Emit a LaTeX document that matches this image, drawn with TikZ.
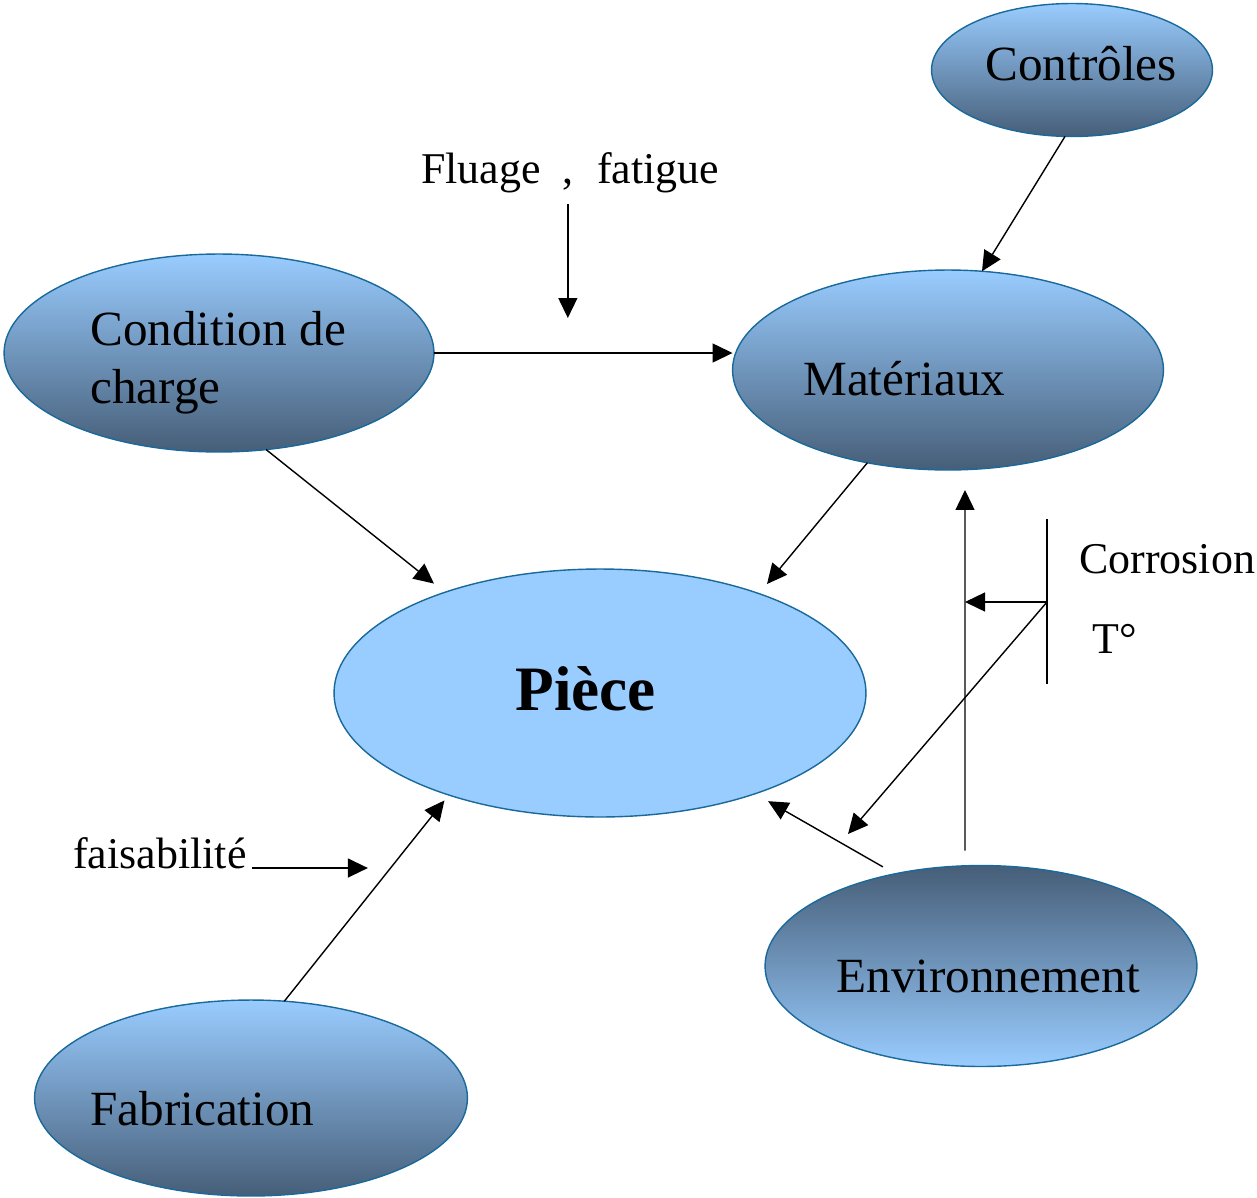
\documentclass[tikz,border=0pt]{standalone}
\usepackage{fontspec}
\setmainfont{Liberation Serif}
\usetikzlibrary{shapes.geometric,arrows.meta,calc}
\definecolor{lb}{RGB}{153,204,255}
\definecolor{dk}{RGB}{70,94,120}
\definecolor{edgec}{RGB}{25,105,155}
\begin{document}
\begin{tikzpicture}[x=0.02cm,y=-0.02cm,
  oval/.style={ellipse, draw=edgec, line width=0.8pt, inner sep=0pt, outer sep=0pt},
  grad/.style={oval, top color=lb, bottom color=dk},
  gradrev/.style={oval, top color=dk, bottom color=lb},
  lbl/.style={anchor=base west, inner sep=0pt, font=\fontsize{28}{34}\selectfont},
  ann/.style={anchor=base west, inner sep=0pt, font=\fontsize{25}{30}\selectfont},
  arr/.style={line width=0.8pt, -{Triangle[length=0.4cm,width=0.38cm]}},
  ln/.style={line width=0.8pt}]
\useasboundingbox (0,0) rectangle (1257,1197);

% ellipses
\node[grad, minimum width=5.62cm, minimum height=2.66cm] (ctrl) at (1072,70) {};
\node[grad, minimum width=8.6cm, minimum height=3.96cm] (cond) at (219,353) {};
\node[grad, minimum width=8.62cm, minimum height=4cm] (mat) at (948,370) {};
\node[oval, fill=lb, minimum width=10.64cm, minimum height=4.96cm] (piece) at (600,693) {};
\node[gradrev, minimum width=8.64cm, minimum height=4.02cm] (env) at (981,966) {};
\node[grad, minimum width=8.66cm, minimum height=3.92cm] (fab) at (251,1098) {};

% ellipse labels
\node[lbl] (tctrl) at (985,80) {Contrôles};
\node[lbl] (tcond1) at (90,345) {Condition de};
\node[lbl] (tcond2) at (90,403) {charge};
\node[lbl] (tmat) at (803,395) {Matériaux};
\node[lbl, font=\bfseries\fontsize{36}{42}\selectfont] (tpiece) at (515,710) {Pièce};
\node[lbl] (tenv) at (836,992) {Environnement};
\node[lbl] (tfab) at (90,1125) {Fabrication};

% annotations
\node[ann] (tflu) at (421,183) {Fluage};
\node[ann] (tcomma) at (562,183) {,};
\node[ann] (tfat) at (597,183) {fatigue};
\node[ann] (tfais) at (73,868) {faisabilité};
\node[ann] (tcorr) at (1079,573) {Corrosion};
\node[ann] (ttemp) at (1092,653) {T°};

% connectors
\draw[arr] (cond.east) -- (cond.east -| mat.west);
\draw[arr] ([yshift=-0.42cm]tcomma.base) -- ++(0,114);
\draw[arr] (ctrl.-96) -- (mat.71);
\draw[arr, shorten >=0.28cm] (cond.-64) -- (piece.147.3);
\draw[arr, shorten >=0.25cm] (mat.-131.7) -- (piece.32.3);
\draw[arr, shorten >=0.14cm] (fab.71.2) -- (piece.-146.6);
\draw[arr, shorten <=0.28cm, shorten >=0.3cm] (env.133.2) -- (piece.-33.6);
\coordinate (vx) at ([xshift=-0.32cm]env.north);
\draw[arr, shorten <=0.3cm, shorten >=0.4cm] (vx) -- ([xshift=0.34cm]mat.south);
\draw[arr] ([xshift=0.1cm]tfais.base east) -- ++(116,0);

% corrosion bracket
\coordinate (brtop) at (1047,519);
\coordinate (brbot) at (1047,684);
\coordinate (brmid) at (1047,602);
\coordinate (dtip) at (848,834);
\draw[ln] (brtop) -- (brbot);
\draw[arr] (brmid) -- (brmid -| vx);
\draw[arr] (brmid) -- (dtip);
\end{tikzpicture}
\end{document}
